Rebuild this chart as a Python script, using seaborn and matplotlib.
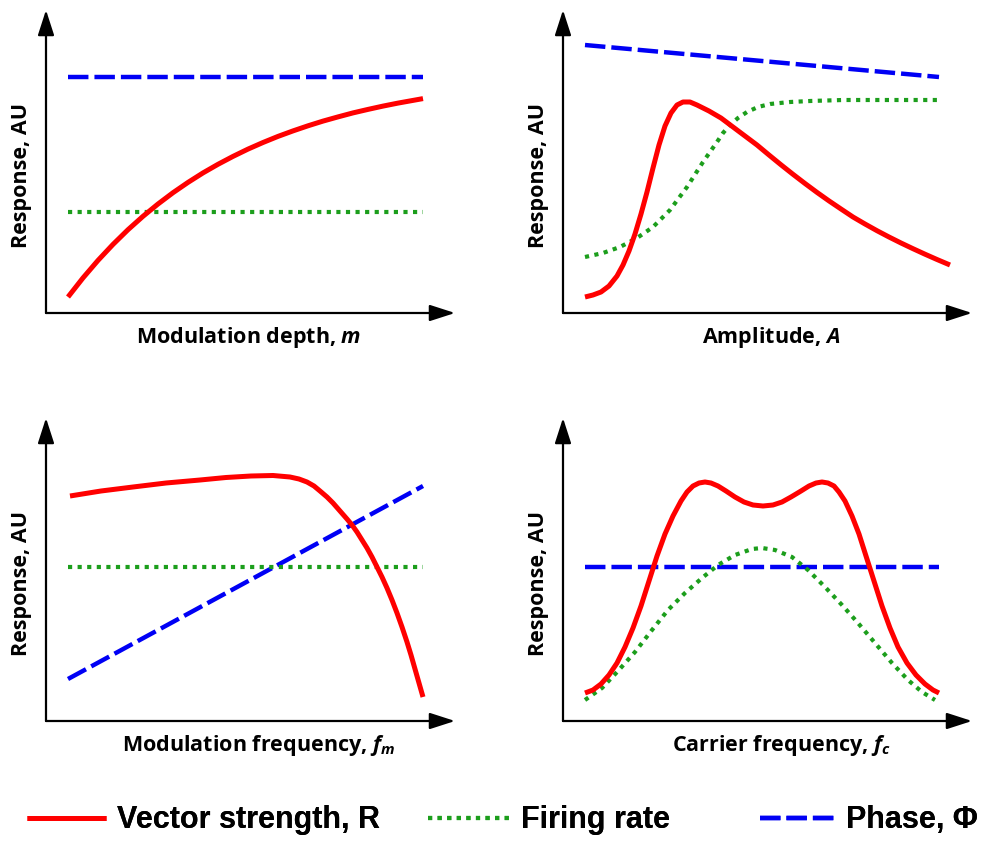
import matplotlib
matplotlib.use("Agg")
import matplotlib.pyplot as plt
from matplotlib.lines import Line2D
import seaborn as sns

# ---- response curves (arbitrary units, origin at the axis corner) ----
# Modulation depth, m
depth_flat_x = [22, 377]
depth_phase = [236, 236]
depth_rate = [101, 101]
depth_vs_x = [22, 37, 52, 67, 82, 97, 112, 127, 142, 157, 172, 187, 202, 217, 232, 247, 262, 277,
              292, 307, 322, 337, 352, 367, 377]
depth_vs = [16.0, 35.1, 52.6, 68.6, 83.3, 96.7, 109.0, 120.3, 130.6, 140.1, 148.7, 156.6, 163.9,
            170.5, 176.6, 182.1, 187.2, 191.9, 196.1, 200.1, 203.6, 206.9, 209.9, 212.6, 214.4]

# Amplitude, A
amp_phase_x = [22, 376]
amp_phase = [268, 236]
amp_rate_x = [22, 40, 57, 74, 90, 107, 124, 140, 154, 160, 167, 175, 184, 195, 207, 227, 247, 280, 376]
amp_rate = [56, 60, 66, 75, 86, 103, 126, 151, 171, 180, 188, 195, 201, 206, 209, 211, 212, 213, 213]
amp_vs_x = [22, 30, 38, 46, 54, 60, 66, 72, 78, 84, 90, 96, 102, 108, 114, 120, 127, 134, 146, 158,
            170, 182, 194, 206, 218, 230, 242, 254, 266, 278, 290, 302, 314, 326, 338, 350, 362,
            374, 387]
amp_vs = [16, 18, 21, 27, 37, 48, 62, 79, 99, 121, 145, 168, 187, 200, 208, 211, 211, 208, 202, 195,
          186, 177, 168, 158, 148.2, 138.7, 129.5, 120.6, 112.1, 104, 96, 89, 82.3, 76, 70, 64.3,
          58.8, 53.5, 48]

# Modulation frequency, f_m
fm_flat_x = [22, 377]
fm_rate = [154, 154]
fm_phase = [42, 235]
fm_vs_x = [24, 55, 87, 120, 154, 180, 205, 227, 244, 253, 261, 268, 274, 281, 287, 294, 301, 306,
           311, 316, 321, 326, 331, 336, 341, 346, 351, 356, 361, 365, 369, 373, 377]
fm_vs = [225, 230, 234, 238, 241, 243.5, 245, 245.5, 244, 242, 239, 235, 230, 224, 218, 210, 202,
         196, 189, 181, 173, 164, 154, 144, 133, 121, 108, 94, 79, 66, 52, 38, 24]

# Carrier frequency, f_c
fc_flat_x = [22, 376]
fc_phase = [154, 154]
fc_rate_x = [22, 39, 55, 72, 89, 105, 122, 139, 155, 172, 189, 199, 212, 229, 245, 262, 279, 295,
             312, 329, 345, 359, 372]
fc_rate = [21, 33, 50, 69, 91, 111, 128, 143, 156, 166, 172, 173, 171, 164, 151, 134, 116, 98,
           78, 58, 41, 29, 21]
fc_vs_x = [22, 30, 38, 46, 54, 62, 70, 78, 86, 94, 102, 110, 118, 124, 130, 136, 142, 148, 155, 163,
           172, 181, 190, 200, 210, 219, 228, 238, 246, 253, 259, 265, 271, 276, 282, 289, 296,
           303, 311, 319, 327, 335, 344, 353, 362, 370, 376]
fc_vs = [28, 31, 37, 46, 58, 74, 93, 115, 140, 165, 187, 205, 220, 229, 235, 238, 239, 238, 235, 230,
         224, 219, 216, 215, 216, 219, 224, 230, 235, 238, 239, 238, 235, 229, 220, 205, 187,
         165, 140, 115, 93, 74, 58, 46, 37, 31, 28]

x_labels = ["Modulation depth, $m$", "Amplitude, $A$",
            "Modulation frequency, $f_m$", "Carrier frequency, $f_c$"]
y_label = "Response, AU"
legend_labels = ["Vector strength, R", "Firing rate", "Phase, \u03a6"]

# ---- styling ----
sns.set_theme(style="white")
plt.rcParams["font.family"] = ["Open Sans", "DejaVu Sans"]
plt.rcParams["text.color"] = "black"
plt.rcParams["axes.labelcolor"] = "black"
plt.rcParams["mathtext.fontset"] = "custom"
plt.rcParams["mathtext.it"] = "Open Sans:italic:bold"
plt.rcParams["mathtext.rm"] = "Open Sans:bold"

RED, GREEN, BLUE = "#ff0000", "#1c9e1c", "#0000f5"
vs_style = dict(color=RED, linewidth=3.6, linestyle="-", solid_capstyle="butt", solid_joinstyle="round")
rate_style = dict(color=GREEN, linewidth=3.0, linestyle=(0, (1.0, 1.3)), dash_capstyle="butt")
phase_style = dict(color=BLUE, linewidth=3.2, linestyle=(0, (4.6, 1.35)), dash_capstyle="butt")

W, H = 983, 843
fig = plt.figure(figsize=(W / 100, H / 100), dpi=100)

ax_w, ax_h = 409 / W, 303 / H
origins = [(46, 313), (563, 313), (46, 721), (563, 721)]
axes = [fig.add_axes([ox / W, 1 - oy / H, ax_w, ax_h]) for ox, oy in origins]

panels = [
    [(depth_vs_x, depth_vs, vs_style), (depth_flat_x, depth_rate, rate_style), (depth_flat_x, depth_phase, phase_style)],
    [(amp_vs_x, amp_vs, vs_style), (amp_rate_x, amp_rate, rate_style), (amp_phase_x, amp_phase, phase_style)],
    [(fm_vs_x, fm_vs, vs_style), (fm_flat_x, fm_rate, rate_style), (fm_flat_x, fm_phase, phase_style)],
    [(fc_vs_x, fc_vs, vs_style), (fc_rate_x, fc_rate, rate_style), (fc_flat_x, fc_phase, phase_style)],
]
xlabel_pos = [(0.496, -0.040), (0.51, -0.040), (0.52, -0.040), (0.533, -0.040)]

for ax, curves, xl, xpos in zip(axes, panels, x_labels, xlabel_pos):
    # phase first, then firing rate, vector strength on top
    for xs, ys, st in curves[::-1]:
        sns.lineplot(x=xs, y=ys, ax=ax, estimator=None, sort=False, **st)
    ax.set_xlim(0, 409)
    ax.set_ylim(0, 303)
    ax.set_xticks([])
    ax.set_yticks([])
    for s in ax.spines.values():
        s.set_visible(False)
    ax.patch.set_alpha(0)
    arrow = dict(arrowstyle="-|>,head_length=1.55,head_width=0.5", color="black",
                 linewidth=1.6, shrinkA=0, shrinkB=0, mutation_scale=10)
    ax.annotate("", xy=(0, 1), xytext=(0, 0), xycoords="axes fraction", arrowprops=arrow)
    ax.annotate("", xy=(1, 0), xytext=(0, 0), xycoords="axes fraction", arrowprops=arrow)
    ax.set_xlabel(xl, fontsize=15.5, fontweight="bold", color="black")
    ax.xaxis.set_label_coords(*xpos)
    ax.set_ylabel(y_label, fontsize=15.5, fontweight="bold", color="black")
    ax.yaxis.set_label_coords(-0.034, 0.455)

# legend along the bottom, one entry per series
legend_font = dict(family=["Liberation Sans", "DejaVu Sans"], weight="bold", size=22)
handles = [Line2D([], [], **vs_style), Line2D([], [], **rate_style), Line2D([], [], **phase_style)]
handle_x = [27, 428, 760]
handle_len = [2.58, 2.68, 2.45]
for h, lab, hx, hl in zip(handles, legend_labels, handle_x, handle_len):
    leg = fig.legend(handles=[h], labels=[lab], loc="center left", bbox_to_anchor=(hx / W, 0.027),
                     frameon=False, prop=legend_font, handlelength=hl, handletextpad=0.36,
                     borderpad=0, borderaxespad=0, labelcolor="black")
    fig.add_artist(leg)

fig.savefig("out.png", dpi=100, facecolor="white")
